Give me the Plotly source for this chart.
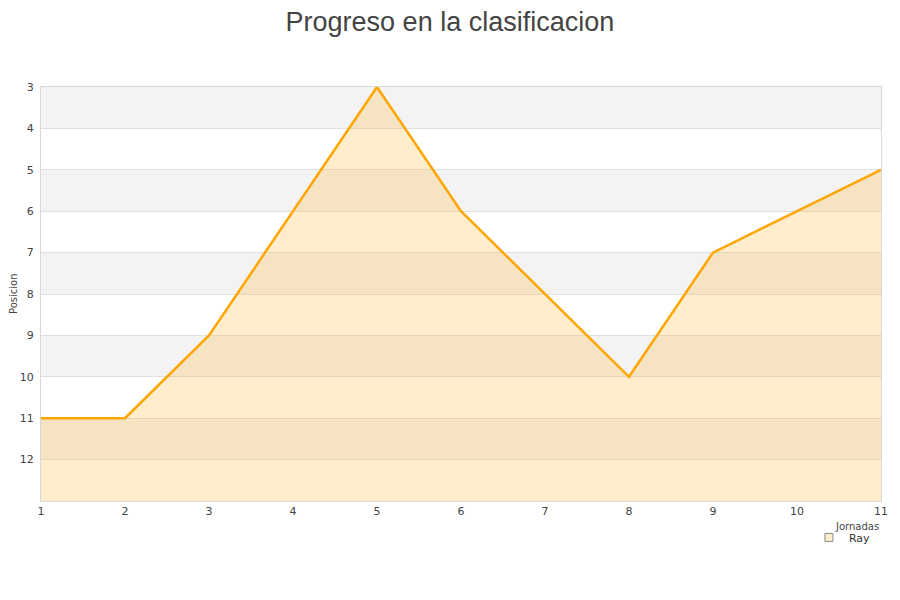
import plotly.graph_objects as go

jornadas = [1, 2, 3, 4, 5, 6, 7, 8, 9, 10, 11]
posicion = [11, 11, 9, 6, 3, 6, 8, 10, 7, 6, 5]
y_ticks = [3, 4, 5, 6, 7, 8, 9, 10, 11, 12]
y_bottom = 13
y_top = 3
serie = "Ray"

fig = go.Figure()
fig.add_trace(go.Scatter(x=jornadas, y=[y_bottom] * len(jornadas), mode="lines",
                         line=dict(width=0, color="rgba(0,0,0,0)"), showlegend=False,
                         hoverinfo="skip"))
fig.add_trace(go.Scatter(x=jornadas, y=posicion, mode="lines", name=serie,
                         fill="tonexty", fillcolor="rgba(255,165,0,0.2)",
                         line=dict(color="#ffa500", width=2.5), showlegend=False,
                         legendgroup="ray"))
# legend-only entry with a square swatch
fig.add_trace(go.Scatter(x=[None], y=[None], mode="markers", name=serie, legendgroup="ray",
                         marker=dict(symbol="square", size=8, color="#ffedcc",
                                     line=dict(color="#888", width=1))))

shapes = []
for k in range(y_top, y_bottom, 2):
    shapes.append(dict(type="rect", xref="paper", yref="y", x0=0, x1=1, y0=k, y1=k + 1,
                       fillcolor="#f3f3f3", line=dict(width=0), layer="below"))

fig.update_layout(
    width=900, height=600,
    margin=dict(l=33, r=27, t=79, b=107),
    paper_bgcolor="white", plot_bgcolor="white",
    title=dict(text="Progreso en la clasificacion", x=0.491, xanchor="center", y=0.993, yanchor="top",
               font=dict(family="Liberation Sans, Arial", size=27, color="#444")),
    font=dict(family="DejaVu Sans", size=11, color="#444"),
    shapes=shapes,
    xaxis=dict(range=[1, 11], tickvals=jornadas, showgrid=False, zeroline=False,
               showline=True, linecolor="#d8d8d8", mirror=True, ticks="", automargin=False,
               tickfont=dict(size=11, color="#444")),
    yaxis=dict(range=[y_bottom, y_top], tickvals=y_ticks, showgrid=True, gridcolor="#e0e0e0",
               zeroline=False, showline=True, linecolor="#d8d8d8", mirror=True, ticks="",
               automargin=False, ticklabelstandoff=4,
               tickfont=dict(size=11, color="#444")),
    showlegend=True,
    legend=dict(x=0.994, xanchor="right", y=-0.053, yanchor="top", bgcolor="rgba(0,0,0,0)",
                font=dict(size=11, color="#333"), itemwidth=30),
    annotations=[
        dict(text="Posicion", xref="paper", yref="paper", x=0, xanchor="center",
             y=0.5, yanchor="middle", textangle=-90, showarrow=False,
             font=dict(size=10, color="#444"), xshift=-28),
        dict(text="Jornadas", xref="paper", yref="paper", x=1, xanchor="right",
             y=-0.044, yanchor="top", showarrow=False, font=dict(size=10, color="#444")),
    ],
)

fig.write_html("out.html")
